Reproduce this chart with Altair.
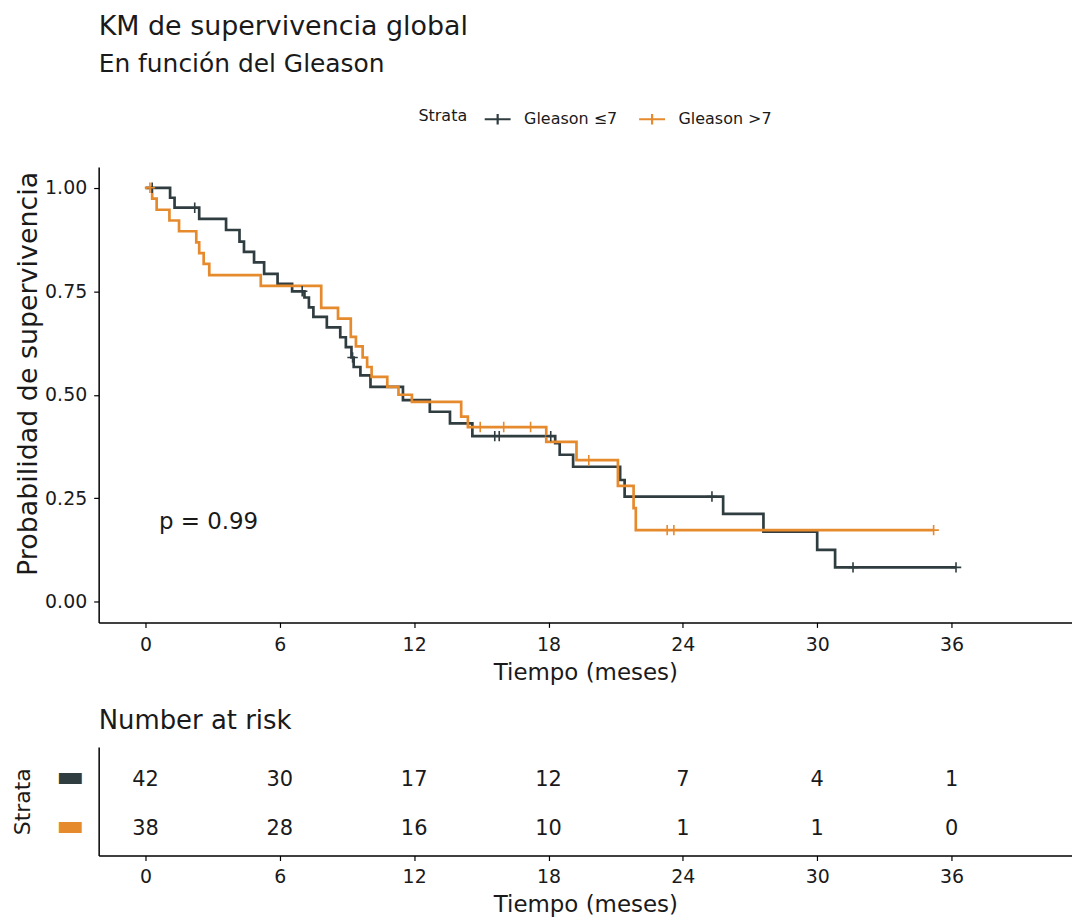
import altair as alt
import pandas as pd

# ---------------- data ----------------
strata = ["Gleason ≤7", "Gleason >7"]
colors = ["#303D40", "#E68A2E"]

le7_times = [0, 1.1, 1.3, 2.4, 3.6, 4.2, 4.4, 4.85, 5.3, 5.9, 6.55, 7.1, 7.3, 7.5,
             8.1, 8.7, 8.95, 9.2, 9.3, 9.6, 10.05, 11.5, 12.7, 13.6, 14.6, 18.3,
             18.5, 19.1, 21.2, 21.4, 25.8, 27.6, 30.0, 30.8, 36.2]
le7_surv = [1.0, 0.976, 0.952, 0.925, 0.898, 0.870, 0.845, 0.820, 0.792, 0.768,
            0.750, 0.735, 0.711, 0.688, 0.663, 0.639, 0.615, 0.590, 0.567, 0.547,
            0.519, 0.487, 0.459, 0.431, 0.400, 0.383, 0.355, 0.326, 0.294, 0.254,
            0.212, 0.169, 0.125, 0.083, 0.083]
le7_cens_t = [0.3, 2.2, 7.0, 9.25, 15.6, 15.8, 18.1, 25.3, 31.6, 36.2]
le7_cens_s = [1.0, 0.952, 0.750, 0.590, 0.400, 0.400, 0.400, 0.254, 0.083, 0.083]

gt7_times = [0, 0.3, 0.5, 1.07, 1.5, 2.27, 2.4, 2.6, 2.85, 5.15, 7.85, 8.6, 9.17,
             9.4, 9.7, 9.9, 10.1, 10.8, 11.3, 11.9, 14.1, 14.4, 17.9, 19.25, 21.1,
             21.8, 21.9, 35.2]
gt7_surv = [1.0, 0.974, 0.947, 0.921, 0.895, 0.868, 0.842, 0.816, 0.789, 0.763,
            0.710, 0.684, 0.640, 0.617, 0.590, 0.567, 0.543, 0.519, 0.500, 0.483,
            0.447, 0.422, 0.386, 0.342, 0.280, 0.226, 0.173, 0.173]
gt7_cens_t = [0.2, 14.95, 16.0, 17.2, 19.8, 23.3, 23.6, 35.2]
gt7_cens_s = [1.0, 0.422, 0.422, 0.422, 0.342, 0.173, 0.173, 0.173]

risk_times = [0, 6, 12, 18, 24, 30, 36]
risk_le7 = [42, 30, 17, 12, 7, 4, 1]
risk_gt7 = [38, 28, 16, 10, 1, 1, 0]

p_label = ["p = 0.99"]
p_t = [0.6]
p_s = [0.193]

x_ticks = [0, 6, 12, 18, 24, 30, 36]
y_ticks = [0, 0.25, 0.5, 0.75, 1.0]

# ---------------- tables ----------------
curve = pd.concat([
    pd.DataFrame({"t": le7_times, "s": le7_surv, "strata": strata[0]}),
    pd.DataFrame({"t": gt7_times, "s": gt7_surv, "strata": strata[1]}),
])
cens = pd.concat([
    pd.DataFrame({"t": le7_cens_t, "s": le7_cens_s, "strata": strata[0]}),
    pd.DataFrame({"t": gt7_cens_t, "s": gt7_cens_s, "strata": strata[1]}),
])
risk = pd.concat([
    pd.DataFrame({"t": risk_times, "n": risk_le7, "strata": strata[0]}),
    pd.DataFrame({"t": risk_times, "n": risk_gt7, "strata": strata[1]}),
])
ptxt = pd.DataFrame({"t": p_t, "s": p_s, "label": p_label})

FONT = "DejaVu Sans"
INK = "#1a1a1a"
W = 977
xscale = alt.Scale(domain=[-2.09, 41.38], nice=False, zero=False)
cscale = alt.Scale(domain=strata, range=colors)


def x_axis(label_pad):
    return alt.Axis(values=x_ticks, title="Tiempo (meses)", labelFontSize=19,
                    titleFontSize=23, grid=False, tickSize=5,
                    labelPadding=label_pad, titlePadding=7,
                    domainColor="black", tickColor="black", labelColor=INK,
                    titleColor=INK, domainWidth=1.5, tickWidth=1.2,
                    labelFont=FONT, titleFont=FONT, titleFontWeight="normal")


legend = alt.Legend(title="Strata", orient="none", legendX=321, legendY=-63,
                    direction="horizontal", titleOrient="left",
                    titleFontSize=16, titleFontWeight="normal", titleFont=FONT,
                    labelFontSize=16, labelFont=FONT, titleColor=INK,
                    labelColor=INK,
                    symbolType="M-1,0H1M0,-0.4V0.4", symbolSize=676,
                    symbolStrokeWidth=2.2, symbolFillColor="transparent",
                    columnPadding=17, labelOffset=12, titlePadding=16)

lines = alt.Chart(curve).mark_line(interpolate="step-after", strokeWidth=2.7).encode(
    x=alt.X("t:Q", scale=xscale, axis=x_axis(8.5)),
    y=alt.Y("s:Q", scale=alt.Scale(domain=[-0.05, 1.05], nice=False),
            axis=alt.Axis(values=y_ticks, format=".2f",
                          title="Probabilidad de supervivencia",
                          labelFontSize=19, titleFontSize=27, grid=False,
                          tickSize=5, labelPadding=7, titlePadding=2,
                          titleY=207,
                          domainColor="black", tickColor="black",
                          labelColor=INK, titleColor=INK,
                          domainWidth=1.5, tickWidth=1.2, labelFont=FONT,
                          titleFont=FONT, titleFontWeight="normal")),
    color=alt.Color("strata:N", scale=cscale, legend=legend),
)
marks = alt.Chart(cens).mark_point(shape="M0,-1V1M-1,0H1", filled=False,
                                   size=110, strokeWidth=1.6, opacity=1).encode(
    x="t:Q", y="s:Q",
    color=alt.Color("strata:N", scale=cscale, legend=None),
)
ptext = alt.Chart(ptxt).mark_text(align="left", baseline="middle", fontSize=23,
                                  font=FONT, color=INK).encode(
    x="t:Q", y="s:Q", text="label:N")

main = alt.layer(lines, marks, ptext).properties(
    width=W, height=457,
    title=alt.TitleParams(text="KM de supervivencia global",
                          subtitle="En función del Gleason",
                          anchor="start", frame="group", fontSize=27,
                          subtitleFontSize=25, font=FONT, subtitleFont=FONT,
                          fontWeight="normal", color=INK,
                          subtitleColor=INK, subtitlePadding=12,
                          offset=26),
)

table = alt.Chart(risk).mark_text(fontSize=21, font=FONT, color=INK, dy=3).encode(
    x=alt.X("t:Q", scale=xscale, axis=x_axis(7.5)),
    y=alt.Y("strata:N", sort=strata,
            scale=alt.Scale(type="point", domain=strata, padding=0.61),
            axis=alt.Axis(title="Strata", labelExpr="'▬'", labelFontSize=30,
                          labelFont=FONT,
                          labelColor=alt.ExprRef(
                              "datum.value == '" + strata[0] + "' ? '" + colors[0] + "' : '" + colors[1] + "'"),
                          ticks=False, labelPadding=15, titleFontSize=22,
                          titleFont=FONT, titleFontWeight="normal",
                          titleColor=INK, domainColor="black",
                          domainWidth=1.5, titlePadding=21, labelBaseline="middle")),
    text="n:Q",
).properties(
    width=W, height=109,
    title=alt.TitleParams(text="Number at risk", anchor="start", frame="group",
                          fontSize=26, font=FONT, fontWeight="normal",
                          color=INK, offset=13),
)

chart = alt.vconcat(
    main, table, spacing=23, background="white",
    padding={"left": 3, "top": 3, "right": 0, "bottom": 0},
).resolve_scale(color="independent").configure_view(stroke=None)

chart.save("out.html", embed_options={"renderer": "svg", "actions": False})
